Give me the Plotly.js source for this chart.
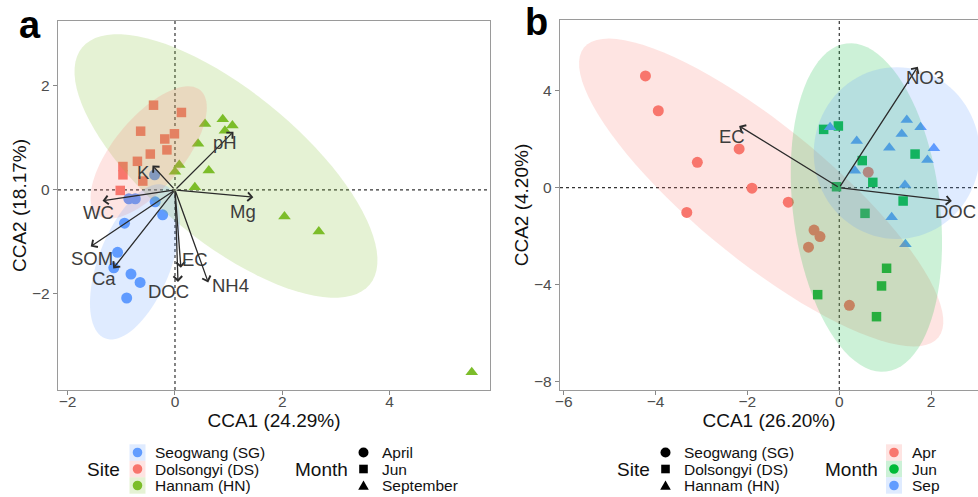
<!DOCTYPE html>
<html><head><meta charset="utf-8">
<script src="https://cdn.plot.ly/plotly-3.0.1.min.js"></script>
<style>html,body{margin:0;padding:0;background:#fff}#chart{width:978px;height:497px}</style>
</head><body><div id="chart"></div>
<script>
// ---------- Panel a data (Site colours, Month shapes) ----------
const siteNames = ["Seogwang (SG)", "Dolsongyi (DS)", "Hannam (HN)"];
const monthNamesA = ["April", "Jun", "September"];
const a_SG_x = [-0.38, -0.86, -0.74, -0.37, -0.23, -0.94, -1.07, -1.14, -0.82, -0.65, -0.90];
const a_SG_y = [0.29, -0.17, -0.17, -0.23, -0.48, -0.64, -1.20, -1.50, -1.62, -1.78, -2.08];
const a_DS_x = [-0.40, 0.12, -0.64, -0.19, -0.01, -0.15, -0.46, -0.70, -0.97, -0.97, -0.60, -1.02];
const a_DS_y = [1.63, 1.49, 1.13, 0.98, 1.08, 0.77, 0.69, 0.55, 0.45, 0.29, 0.17, -0.01];
const a_HN_x = [0.56, 0.89, 1.07, 0.93, 0.43, 0.08, 0.00, 0.63, 0.37, 2.04, 2.68, 5.53];
const a_HN_y = [1.27, 1.36, 1.24, 1.14, 0.89, 0.48, 0.35, 0.375, 0.05, -0.51, -0.80, -3.51];
const a_envNames = ["pH", "K", "WC", "Mg", "SOM", "Ca", "EC", "DOC", "NH4"];
const a_envX = [1.09, -0.42, -1.35, 1.46, -1.57, -1.15, 0.11, 0.056, 0.62];
const a_envY = [1.12, 0.47, -0.21, -0.14, -1.09, -1.51, -1.50, -1.77, -1.78];
// ellipse (centre, two conjugate half-axes) per site, panel a
const a_ellCenter = [[-0.745, -1.385], [-0.49, 0.72], [0.95, 0.46]];
const a_ellU = [[-0.559, -1.471], [0.959, 1.20], [2.68, -2.28]];
const a_ellV = [[0.626, -0.254], [0.503, -0.429], [0.886, 1.11]];
const a_xTicks = [-2, 0, 2, 4];
const a_yTicks = [-2, 0, 2];

// ---------- Panel b data (Month colours, Site shapes) ----------
const monthNamesB = ["Apr", "Jun", "Sep"];
const b_Apr_x = [-4.22, -3.94, -2.18, -3.09, -1.90, -1.11, -3.32, -0.55, -0.42, -0.67, 0.22, 0.63];
const b_Apr_y = [4.62, 3.18, 1.60, 1.05, -0.02, -0.60, -1.02, -1.75, -2.02, -2.46, -4.86, 0.64];
const b_Jun_x = [-0.34, -0.02, 0.50, 0.73, 1.65, -0.06, 1.39, 0.56, 1.03, 0.92, -0.47, 0.81];
const b_Jun_y = [2.41, 2.55, 1.12, 0.22, 1.39, 0.04, -0.55, -1.06, -3.33, -4.06, -4.42, -5.33];
const b_Sep_x = [-0.20, 1.47, 1.77, 1.36, 0.38, 1.09, 2.06, 1.92, 0.34, 1.43, 1.14, 1.44];
const b_Sep_y = [2.50, 2.80, 2.50, 2.22, 1.93, 1.65, 1.63, 1.14, 0.70, 0.11, -1.22, -2.34];
const b_envNames = ["EC", "NO3", "DOC"];
const b_envX = [-2.18, 1.71, 2.45];
const b_envY = [2.55, 5.00, -0.55];
const b_ellCenter = [[-1.70, -0.20], [0.59, -0.82], [1.25, 1.43]];
const b_ellU = [[3.857, -5.99], [-0.435, 6.78], [0, 3.55]];
const b_ellV = [[0.921, 2.14], [1.589, 0.372], [1.806, 0]];
const b_xTicks = [-6, -4, -2, 0, 2];
const b_yTicks = [-8, -4, 0, 4];

// ---------- styles ----------
const W = 978, H = 497;
const PX = v => v / W, PY = v => 1 - v / H;
const FONT = "Liberation Sans, Arial, sans-serif";
const colA = ["#619CFF", "#F8766D", "#7CBD2A"];
const colB = ["#F8766D", "#00BA38", "#619CFF"];
const symA = ["circle", "square", "triangle-up"];
const sizeOf = {"circle": 11, "square": 9.5, "triangle-up": 11};
function rgba(hex, a) {
  const n = parseInt(hex.slice(1), 16);
  return `rgba(${(n >> 16) & 255},${(n >> 8) & 255},${n & 255},${a})`;
}

const traces = [];
function pts(x, y, color, sym, xa, ya, name) {
  traces.push({type: "scatter", mode: "markers", x: x, y: y, xaxis: xa, yaxis: ya, name: name,
    showlegend: false, hoverinfo: "skip",
    marker: {color: color, symbol: sym, size: sizeOf[sym], line: {width: 0}}});
}
pts(a_SG_x, a_SG_y, colA[0], symA[0], "x", "y", siteNames[0]);
pts(a_DS_x, a_DS_y, colA[1], symA[1], "x", "y", siteNames[1]);
pts(a_HN_x, a_HN_y, colA[2], symA[2], "x", "y", siteNames[2]);
pts(b_Apr_x, b_Apr_y, colB[0], "circle", "x2", "y2", monthNamesB[0]);
pts(b_Jun_x, b_Jun_y, colB[1], "square", "x2", "y2", monthNamesB[1]);
pts(b_Sep_x, b_Sep_y, colB[2], "triangle-up", "x2", "y2", monthNamesB[2]);

const shapes = [];
function ellipsePath(c, u, v) {
  let s = "";
  const N = 90;
  for (let i = 0; i <= N; i++) {
    const t = 2 * Math.PI * i / N;
    const x = c[0] + u[0] * Math.cos(t) + v[0] * Math.sin(t);
    const y = c[1] + u[1] * Math.cos(t) + v[1] * Math.sin(t);
    s += (i === 0 ? "M" : "L") + x.toFixed(4) + "," + y.toFixed(4);
  }
  return s + "Z";
}
// dashed zero lines
[["x", "y"], ["x2", "y2"]].forEach(([xa, ya]) => {
  shapes.push({type: "line", xref: xa, yref: ya + " domain", x0: 0, x1: 0, y0: 0, y1: 1, layer: "below",
    line: {color: "#333", width: 1.2, dash: "3px,3px"}});
  shapes.push({type: "line", xref: xa + " domain", yref: ya, x0: 0, x1: 1, y0: 0, y1: 0, layer: "below",
    line: {color: "#333", width: 1.2, dash: "3px,3px"}});
});
// ellipses (drawn above points, like stat_ellipse polygons)
[2, 1, 0].forEach(i => shapes.push({type: "path", xref: "x", yref: "y", layer: "above",
  path: ellipsePath(a_ellCenter[i], a_ellU[i], a_ellV[i]), fillcolor: rgba(colA[i], 0.2), line: {width: 0}}));
[0, 1, 2].forEach(i => shapes.push({type: "path", xref: "x2", yref: "y2", layer: "above",
  path: ellipsePath(b_ellCenter[i], b_ellU[i], b_ellV[i]), fillcolor: rgba(colB[i], 0.2), line: {width: 0}}));

const annotations = [];
// arrows + labels
const labOffA = [[-8, 11], [-9, 7], [-4, 12], [-10, 14], [1, 12], [-9, 10], [14, -8], [-9, 10], [22, 3]];
const labOffB = [[-7, 11], [7, 11], [4, 10]];
function arrows(names, xs, ys, offs, xa, ya) {
  names.forEach((n, i) => {
    annotations.push({xref: xa, yref: ya, axref: xa, ayref: ya, x: xs[i], y: ys[i], ax: 0, ay: 0,
      text: "", showarrow: true, arrowhead: 4, arrowsize: 1.3, arrowwidth: 1.3, arrowcolor: "#2b2b2b",
      standoff: 0, startstandoff: 0});
    annotations.push({xref: xa, yref: ya, x: xs[i], y: ys[i], text: n, showarrow: false,
      xshift: offs[i][0], yshift: -offs[i][1], xanchor: "center", yanchor: "middle",
      font: {family: FONT, size: 18.5, color: "#3d3d3d"}});
  });
}
arrows(a_envNames, a_envX, a_envY, labOffA, "x", "y");
arrows(b_envNames, b_envX, b_envY, labOffB, "x2", "y2");

// panel tags
annotations.push({xref: "paper", yref: "paper", x: PX(30), y: PY(25), text: "<b>a</b>", showarrow: false,
  xanchor: "center", yanchor: "middle", font: {family: FONT, size: 38, color: "#000"}});
annotations.push({xref: "paper", yref: "paper", x: PX(536), y: PY(22), text: "<b>b</b>", showarrow: false,
  xanchor: "center", yanchor: "middle", font: {family: FONT, size: 38, color: "#000"}});

// ---------- legends ----------
const rowsY = [452.5, 469, 485.5];
function txt(x, y, t, size, anchor) {
  annotations.push({xref: "paper", yref: "paper", x: PX(x), y: PY(y), text: t, showarrow: false,
    xanchor: anchor || "left", yanchor: "middle", font: {family: FONT, size: size, color: "#111"}});
}
function keyBox(cx, cy, color) {
  shapes.push({type: "rect", xref: "paper", yref: "paper", x0: PX(cx - 8), x1: PX(cx + 8),
    y0: PY(cy + 8.2), y1: PY(cy - 8.2), fillcolor: rgba(color, 0.2), line: {width: 0}});
  shapes.push({type: "circle", xref: "paper", yref: "paper", x0: PX(cx - 4.8), x1: PX(cx + 4.8),
    y0: PY(cy + 4.8), y1: PY(cy - 4.8), fillcolor: color, line: {width: 0}});
}
function blackSym(kind, cx, cy) {
  if (kind === "circle") shapes.push({type: "circle", xref: "paper", yref: "paper", x0: PX(cx - 5), x1: PX(cx + 5),
    y0: PY(cy + 5), y1: PY(cy - 5), fillcolor: "#000", line: {width: 0}});
  else if (kind === "square") shapes.push({type: "rect", xref: "paper", yref: "paper", x0: PX(cx - 4.3), x1: PX(cx + 4.3),
    y0: PY(cy + 4.3), y1: PY(cy - 4.3), fillcolor: "#000", line: {width: 0}});
  else shapes.push({type: "path", xref: "paper", yref: "paper",
    path: `M${PX(cx - 5.3)},${PY(cy + 4.3)}L${PX(cx + 5.3)},${PY(cy + 4.3)}L${PX(cx)},${PY(cy - 5)}Z`,
    fillcolor: "#000", line: {width: 0}});
}
// panel a legend
txt(85, 469, "Site", 19);
siteNames.forEach((s, i) => { keyBox(137.5, rowsY[i], colA[i]); txt(153, rowsY[i], s, 15.5); });
txt(293, 469, "Month", 19);
monthNamesA.forEach((m, i) => { blackSym(symA[i], 363.5, rowsY[i]); txt(380, rowsY[i], m, 15.5); });
// panel b legend
txt(615, 469, "Site", 19);
siteNames.forEach((s, i) => { blackSym(symA[i], 665.5, rowsY[i]); txt(682, rowsY[i], s, 15.5); });
txt(823, 469, "Month", 19);
monthNamesB.forEach((m, i) => { keyBox(894, rowsY[i], colB[i]); txt(910, rowsY[i], m, 15.5); });

// ---------- axes ----------
function axis(domain, range, ticks, title, extra) {
  return Object.assign({domain: domain, range: range, tickvals: ticks, ticks: "outside", ticklen: 4,
    tickcolor: "#888", tickwidth: 1, showline: true, linecolor: "#9a9a9a", linewidth: 1.2, mirror: true,
    zeroline: false, showgrid: false, fixedrange: true,
    tickfont: {family: FONT, size: 15.5, color: "#4d4d4d"},
    title: {text: title, font: {family: FONT, size: 19, color: "#111"}, standoff: 0}}, extra || {});
}
const layout = {
  width: W, height: H, margin: {l: 0, r: 0, t: 0, b: 0}, paper_bgcolor: "#fff", plot_bgcolor: "#fff",
  showlegend: false, font: {family: FONT},
  xaxis: axis([58 / W, 490 / W], [-2.18, 5.87], a_xTicks, "CCA1 (24.29%)", {anchor: "y", ticklabelstandoff: -7}),
  yaxis: axis([1 - 390 / H, 1 - 21 / H], [-3.85, 3.25], a_yTicks, "CCA2 (18.17%)", {anchor: "x"}),
  xaxis2: axis([560 / W, 1], [-6.08, 3.02], b_xTicks, "CCA1 (26.20%)", {anchor: "y2", ticklabelstandoff: -7}),
  yaxis2: axis([1 - 390 / H, 1 - 20 / H], [-8.36, 6.93], b_yTicks, "CCA2 (4.20%)", {anchor: "x2", mirror: false}),
  shapes: shapes, annotations: annotations
};
Plotly.newPlot("chart", traces, layout, {displayModeBar: false, staticPlot: true});
</script></body></html>
